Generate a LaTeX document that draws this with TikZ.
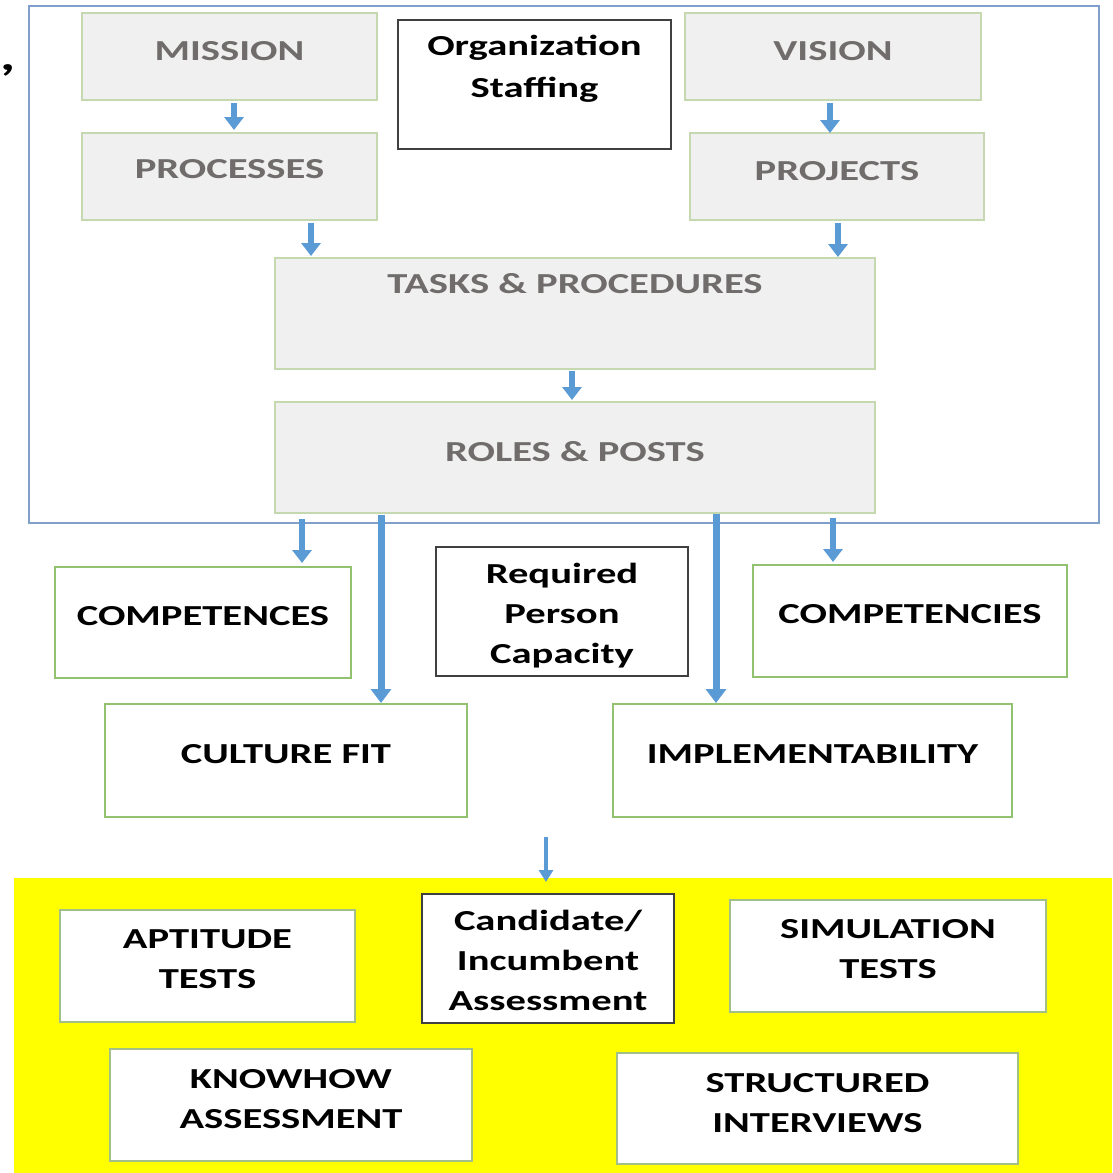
\documentclass[tikz,border=0pt]{standalone}
\usepackage{fontspec}
\newfontfamily\cb[FakeStretch=1.4]{Carlito Bold}
\usetikzlibrary{arrows.meta}
\definecolor{gfill}{HTML}{F0F0F0}
\definecolor{gline}{HTML}{C5D8B0}
\definecolor{gtext}{HTML}{706C6C}
\definecolor{arrblue}{HTML}{5B9BD5}
\definecolor{frameblue}{HTML}{809FCA}
\definecolor{mgreen}{HTML}{92C16F}
\definecolor{bgreen}{HTML}{A3BF88}
\definecolor{ylw}{HTML}{FFFF00}
\begin{document}
\begin{tikzpicture}[x=1pt,y=-1pt,
  every node/.style={inner sep=0pt, outer sep=0pt},
  graybox/.style={draw=gline, line width=1.6pt, fill=gfill},
  blackbox/.style={draw=black!75, line width=1.2pt, fill=white},
  greenbox/.style={draw=mgreen, line width=1.8pt, fill=white},
  lowbox/.style={draw=bgreen, line width=1.5pt, fill=white},
  gtxt/.style={anchor=base, text=gtext, font=\cb\fontsize{29}{35}\selectfont},
  btxt/.style={anchor=base, text=black, font=\cb\fontsize{29}{35}\selectfont},
  arr/.style={draw=arrblue, line width=6pt, -{Triangle[width=19pt,length=13pt]}},
  arrL/.style={draw=arrblue, line width=7pt, -{Triangle[width=20pt,length=14pt]}},
  arrS/.style={draw=arrblue, line width=4pt, -{Triangle[width=14pt,length=12pt]}}
]
\useasboundingbox (0,0) rectangle (1112,1173);
\fill[white] (0,0) rectangle (1112,1173);

% stray comma
\node[anchor=base west, font=\cb\fontsize{42}{42}\selectfont] (comma) at (1,70) {,};

% outer frame
\node[draw=frameblue, line width=2pt, minimum width=1070pt, minimum height=517pt] (frame) at (564,264.5) {};

% top boxes
\node[graybox, minimum width=295pt, minimum height=87pt] (mission) at (229.5,56.5) {};
\node[gtxt] (missiont) at (229.5,60) {MISSION};
\node[blackbox, minimum width=273pt, minimum height=129pt] (org) at (534.5,84.5) {};
\node[btxt] (orgt1) at (534.5,55) {Organization};
\node[btxt] (orgt2) at (534.5,97) {Staffing};
\node[graybox, minimum width=296pt, minimum height=87pt] (vision) at (833,56.5) {};
\node[gtxt] (visiont) at (833,60) {VISION};
\node[graybox, minimum width=295pt, minimum height=87pt] (processes) at (229.5,176.5) {};
\node[gtxt] (processest) at (229.5,178) {PROCESSES};
\node[graybox, minimum width=294pt, minimum height=87pt] (projects) at (837,176.5) {};
\node[gtxt] (projectst) at (837,180) {PROJECTS};
\node[graybox, minimum width=600pt, minimum height=111pt] (tasks) at (575,313.5) {};
\node[gtxt] (taskst) at (575,293) {TASKS \& PROCEDURES};
\node[graybox, minimum width=600pt, minimum height=111pt] (roles) at (575,457.5) {};
\node[gtxt] (rolest) at (575,461) {ROLES \& POSTS};

% middle boxes
\node[greenbox, minimum width=296pt, minimum height=111pt] (competences) at (203,622.5) {};
\node[btxt] (competencest) at (203,625) {COMPETENCES};
\node[blackbox, minimum width=252pt, minimum height=129pt] (required) at (562,611.5) {};
\node[btxt] (reqt1) at (562,583) {Required};
\node[btxt] (reqt2) at (562,623) {Person};
\node[btxt] (reqt3) at (562,663) {Capacity};
\node[greenbox, minimum width=314pt, minimum height=112pt] (competencies) at (910,621) {};
\node[btxt] (competenciest) at (910,623) {COMPETENCIES};
\node[greenbox, minimum width=362pt, minimum height=113pt] (culture) at (286,760.5) {};
\node[btxt] (culturet) at (286,763) {CULTURE FIT};
\node[greenbox, minimum width=399pt, minimum height=113pt] (implement) at (812.5,760.5) {};
\node[btxt] (implementt) at (812.5,763) {IMPLEMENTABILITY};

% yellow area
\node[fill=ylw, minimum width=1098pt, minimum height=295pt] (yellow) at (563,1025.5) {};
\node[lowbox, minimum width=295pt, minimum height=112pt] (aptitude) at (207.5,966) {};
\node[btxt] (aptt1) at (207.5,948) {APTITUDE};
\node[btxt] (aptt2) at (207.5,988) {TESTS};
\node[blackbox, minimum width=252pt, minimum height=129pt] (candidate) at (548,958.5) {};
\node[btxt] (cand1) at (548,930) {Candidate/};
\node[btxt] (cand2) at (548,970) {Incumbent};
\node[btxt] (cand3) at (548,1010) {Assessment};
\node[lowbox, minimum width=316pt, minimum height=112pt] (simulation) at (888,956) {};
\node[btxt] (simt1) at (888,938) {SIMULATION};
\node[btxt] (simt2) at (888,978) {TESTS};
\node[lowbox, minimum width=362pt, minimum height=112pt] (knowhow) at (291,1105) {};
\node[btxt] (knowt1) at (291,1088) {KNOWHOW};
\node[btxt] (knowt2) at (291,1128) {ASSESSMENT};
\node[lowbox, minimum width=401pt, minimum height=111pt] (structured) at (817.5,1108.5) {};
\node[btxt] (strt1) at (817.5,1092) {STRUCTURED};
\node[btxt] (strt2) at (817.5,1132) {INTERVIEWS};

% connectors
\draw[arr] ([xshift=4.5pt,yshift=-3pt]mission.south) -- ([xshift=4.5pt,yshift=3pt]processes.north);
\draw[arr] ([xshift=-3pt,yshift=-3pt]vision.south) -- ([xshift=-7pt]projects.north);
\draw[arr] ([xshift=81.5pt,yshift=-3pt]processes.south) -- ([xshift=-264pt,yshift=2pt]tasks.north);
\draw[arr] ([xshift=1pt,yshift=-3pt]projects.south) -- ([xshift=263pt,yshift=1pt]tasks.north);
\draw[arr] ([xshift=-3pt,yshift=-2pt]tasks.south) -- ([xshift=-3pt,yshift=2pt]roles.north);
\draw[arrL] ([xshift=-194pt,yshift=-2pt]roles.south) -- ([xshift=95pt,yshift=1pt]culture.north);
\draw[arrL] ([xshift=141pt,yshift=-1pt]roles.south) -- ([xshift=-96.5pt,yshift=1pt]implement.north);
\draw[arr] ([xshift=-262pt,yshift=4pt]frame.south) -- ([xshift=99pt,yshift=4pt]competences.north);
\draw[arr] ([xshift=269pt,yshift=5pt]frame.south) -- ([xshift=-77pt,yshift=3pt]competencies.north);
\coordinate (bstart) at (546,837);
\draw[arrS] (bstart) -- ([xshift=-17pt,yshift=-4pt]yellow.north);
\end{tikzpicture}
\end{document}
